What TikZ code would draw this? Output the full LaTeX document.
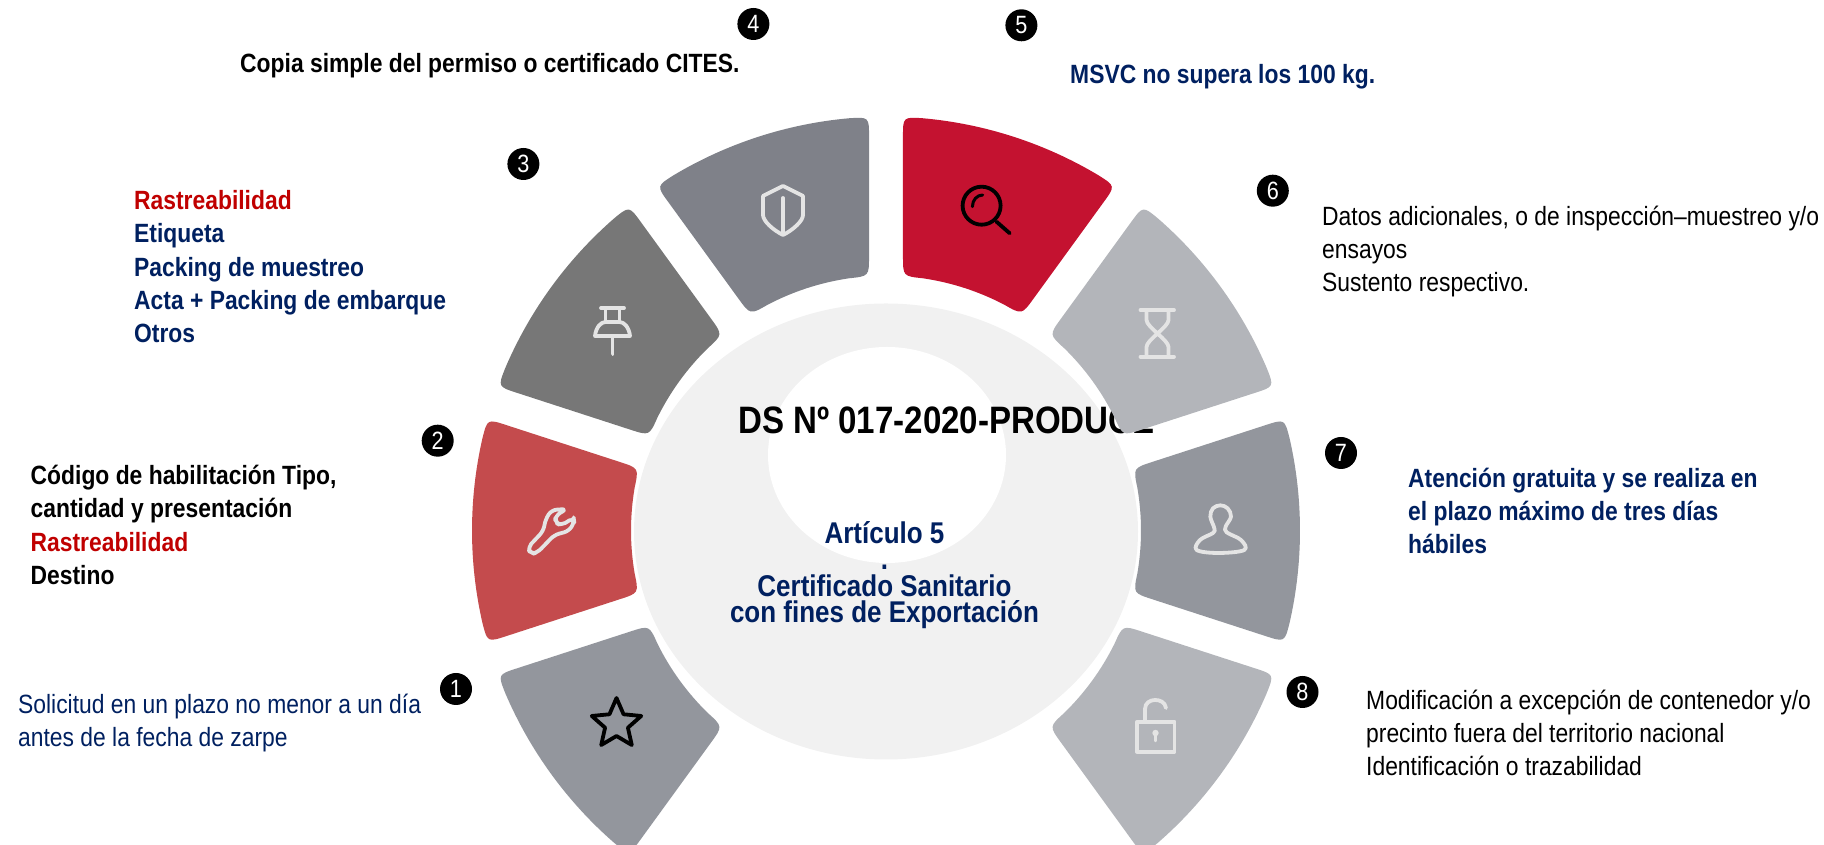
\documentclass[tikz,border=0pt]{standalone}
\usepackage{xcolor}
\usepackage{fontspec}
\setmainfont[FakeStretch=0.866]{Liberation Sans}
\usetikzlibrary{calc}
\definecolor{navytxt}{HTML}{002060}
\definecolor{redtxt}{HTML}{C00000}
\definecolor{ringbg}{HTML}{F1F1F1}
\definecolor{iconline}{HTML}{E4E4E4}
\definecolor{segone}{HTML}{93969D}
\definecolor{segtwo}{HTML}{C44B4D}
\definecolor{segthree}{HTML}{777777}
\definecolor{segfour}{HTML}{7F8189}
\definecolor{segfive}{HTML}{C41230}
\definecolor{segsix}{HTML}{B3B5BA}
\tikzset{
  lbl/.style={anchor=base west, align=left, inner sep=0pt, font=\fontsize{26.4}{33.4}\selectfont},
  lblb/.style={lbl, font=\fontsize{26.4}{33.4}\selectfont\bfseries},
  numnode/.style={circle, fill=black, text=white, inner sep=0pt, minimum size=32pt, font=\fontsize{25}{25}\selectfont},
  icon/.style={draw=iconline, line width=3.8pt, line join=round, line cap=round},
  iconblk/.style={draw=black, line width=3.8pt, line join=round, line cap=round}
}
\newcommand{\ringseg}[3]{%
  \pgfmathsetmacro\oaa{#1+2.35}\pgfmathsetmacro\obb{#2-2.35}%
  \pgfmathsetmacro\iaa{#1+3.82}\pgfmathsetmacro\ibb{#2-3.82}%
  \pgfmathsetmacro\oas{\oaa+2.8}\pgfmathsetmacro\obs{\obb-2.8}%
  \pgfmathsetmacro\ias{\iaa+4.5}\pgfmathsetmacro\ibs{\ibb-4.5}%
  \coordinate (oa) at (\oaa:414);
  \coordinate (ob) at (\obb:414);
  \coordinate (ia) at (\iaa:255);
  \coordinate (ib) at (\ibb:255);
  \fill[fill=#3] ($(oa)!20pt!(ia)$) .. controls (oa) .. (\oas:414)
    arc[start angle=\oas, end angle=\obs, radius=414]
    .. controls (ob) .. ($(ob)!20pt!(ib)$) -- ($(ib)!20pt!(ob)$)
    .. controls (ib) .. (\ibs:255)
    arc[start angle=\ibs, end angle=\ias, radius=255]
    .. controls (ia) .. ($(ia)!20pt!(oa)$) -- cycle;
}
\begin{document}
\begin{tikzpicture}[x=1pt,y=1pt]
	\useasboundingbox (0,0) rectangle (1824,845);
	\fill[ringbg] (886,313.5) ellipse[x radius=252, y radius=228];
	\fill[white] (887,390) ellipse[x radius=119, y radius=108];
	\node[lblb, font=\fontsize{38.2}{40}\selectfont\bfseries] (title) at (738,411) {DS Nº 017-2020-PRODUCE};
	\node[lblb, anchor=base, align=center, text=navytxt, font=\fontsize{30}{26.6}\selectfont\bfseries] (articulo) at (884.5,222) {Artículo 5\\.\\Certificado Sanitario\\con fines de Exportación};
	\begin{scope}[shift={(886,314.4)}]
		\ringseg{198}{234}{segone}
		\ringseg{162}{198}{segtwo}
		\ringseg{126}{162}{segthree}
		\ringseg{90}{126}{segfour}
		\ringseg{54}{90}{segfive}
		\ringseg{18}{54}{segsix}
		\ringseg{-18}{18}{segone}
		\ringseg{-54}{-18}{segsix}
	\end{scope}
	% star
	\draw[iconblk] (616.5,121)
		+(90:26) -- +(126:12) -- +(162:26) -- +(198:12) -- +(234:26) -- +(270:12) -- +(306:26) -- +(342:12) -- +(18:26) -- +(54:12) -- cycle;
	% wrench
	\begin{scope}[shift={(515,350)},x=0.3333pt,y=-0.3333pt]
		\draw[icon, rounded corners=5pt] (38,158) -- (85,108) -- (92,72) -- (110,45) -- (155,42) -- (122,62) -- (120,82) -- (138,92) -- (176,68) -- (178,82) -- (162,108) -- (118,120) -- (68,172) -- (48,178) -- cycle;
	\end{scope}
	% pin
	\draw[icon] (601,537) -- (624,537) (605.5,537) -- (605.5,523) (619.5,537) -- (619.5,523);
	\draw[icon] (595,509) .. controls (596,518) and (601,523) .. (605.5,523) -- (619.5,523) .. controls (624,523) and (629,518) .. (630,509) -- cycle;
	\draw[icon] (612.5,509) -- (612.5,491);
	% shield
	\draw[icon] (783,659) -- (803,649) -- (803,630) .. controls (803,624) and (793,615) .. (783,610) .. controls (773,615) and (763,624) .. (763,630) -- (763,649) -- cycle;
	\draw[icon] (783,647) -- (783,613);
	% magnifier
	\draw[iconblk] (981.6,639.3) circle[radius=19];
	\draw[iconblk] (996.5,623.3) -- (1009.7,611.7);
	\draw[iconblk, line width=3pt] (972.4,638.3) .. controls (972.4,645) and (977,650) .. (982.7,650);
	% hourglass
	\draw[icon] (1140.5,535) -- (1174,535) (1140.5,488.3) -- (1174,488.3);
	\draw[icon] (1146.5,535) -- (1146.5,525) .. controls (1146.5,518) and (1168.5,505) .. (1168.5,498) -- (1168.5,488.3);
	\draw[icon] (1168.5,535) -- (1168.5,525) .. controls (1168.5,518) and (1146.5,505) .. (1146.5,498) -- (1146.5,488.3);
	% person
	\begin{scope}[shift={(1185,350)},x=0.3333pt,y=-0.3333pt]
		\draw[icon] plot[smooth cycle, tension=0.6] coordinates {(106,31) (84,40) (76,65) (88,100) (84,114) (45,135) (35,165) (100,174) (178,165) (168,135) (125,112) (122,95) (138,65) (128,40)};
	\end{scope}
	% lock
	\draw[icon] (1137,123.3) rectangle (1174.5,93.3);
	\draw[icon] (1145,123.3) -- (1145,136) .. controls (1145,142) and (1150,145) .. (1155,145) .. controls (1160,145) and (1165,143) .. (1166,137);
	\fill[iconline] (1155.5,112) circle[radius=3.2];
	\draw[icon, line width=2.5pt] (1155.5,112) -- (1155.5,104);
	% numbers
	\node[numnode] (num1) at (456,156) {1};
	\node[numnode] (num2) at (437.7,404.3) {2};
	\node[numnode] (num3) at (523.4,681) {3};
	\node[numnode] (num4) at (753.4,821) {4};
	\node[numnode] (num5) at (1021.4,819.7) {5};
	\node[numnode] (num6) at (1272.8,654.3) {6};
	\node[numnode] (num7) at (1341,392) {7};
	\node[numnode] (num8) at (1302.5,153) {8};
	% texts
	\node[lbl, text=navytxt] (txt1) at (18,98) {Solicitud en un plazo no menor a un día\\antes de la fecha de zarpe};
	\node[lblb] (txt2) at (30.5,260.5) {Código de habilitación Tipo,\\cantidad y presentación\\\textcolor{redtxt}{Rastreabilidad}\\Destino};
	\node[lblb, text=navytxt] (txt3) at (134,502) {\textcolor{redtxt}{Rastreabilidad}\\Etiqueta\\Packing de muestreo\\Acta + Packing de embarque\\Otros};
	\node[lblb] (txt4) at (240,772) {Copia simple del permiso o certificado CITES.};
	\node[lblb, text=navytxt] (txt5) at (1070,761) {MSVC no supera los 100 kg.};
	\node[lbl] (txt6) at (1322,553) {Datos adicionales, o de inspección–muestreo y/o\\ensayos\\Sustento respectivo.};
	\node[lblb, text=navytxt] (txt7) at (1408,291) {Atención gratuita y se realiza en\\el plazo máximo de tres días\\hábiles};
	\node[lbl] (txt8) at (1366,69) {Modificación a excepción de contenedor y/o\\precinto fuera del territorio nacional\\Identificación o trazabilidad};
\end{tikzpicture}
\end{document}
